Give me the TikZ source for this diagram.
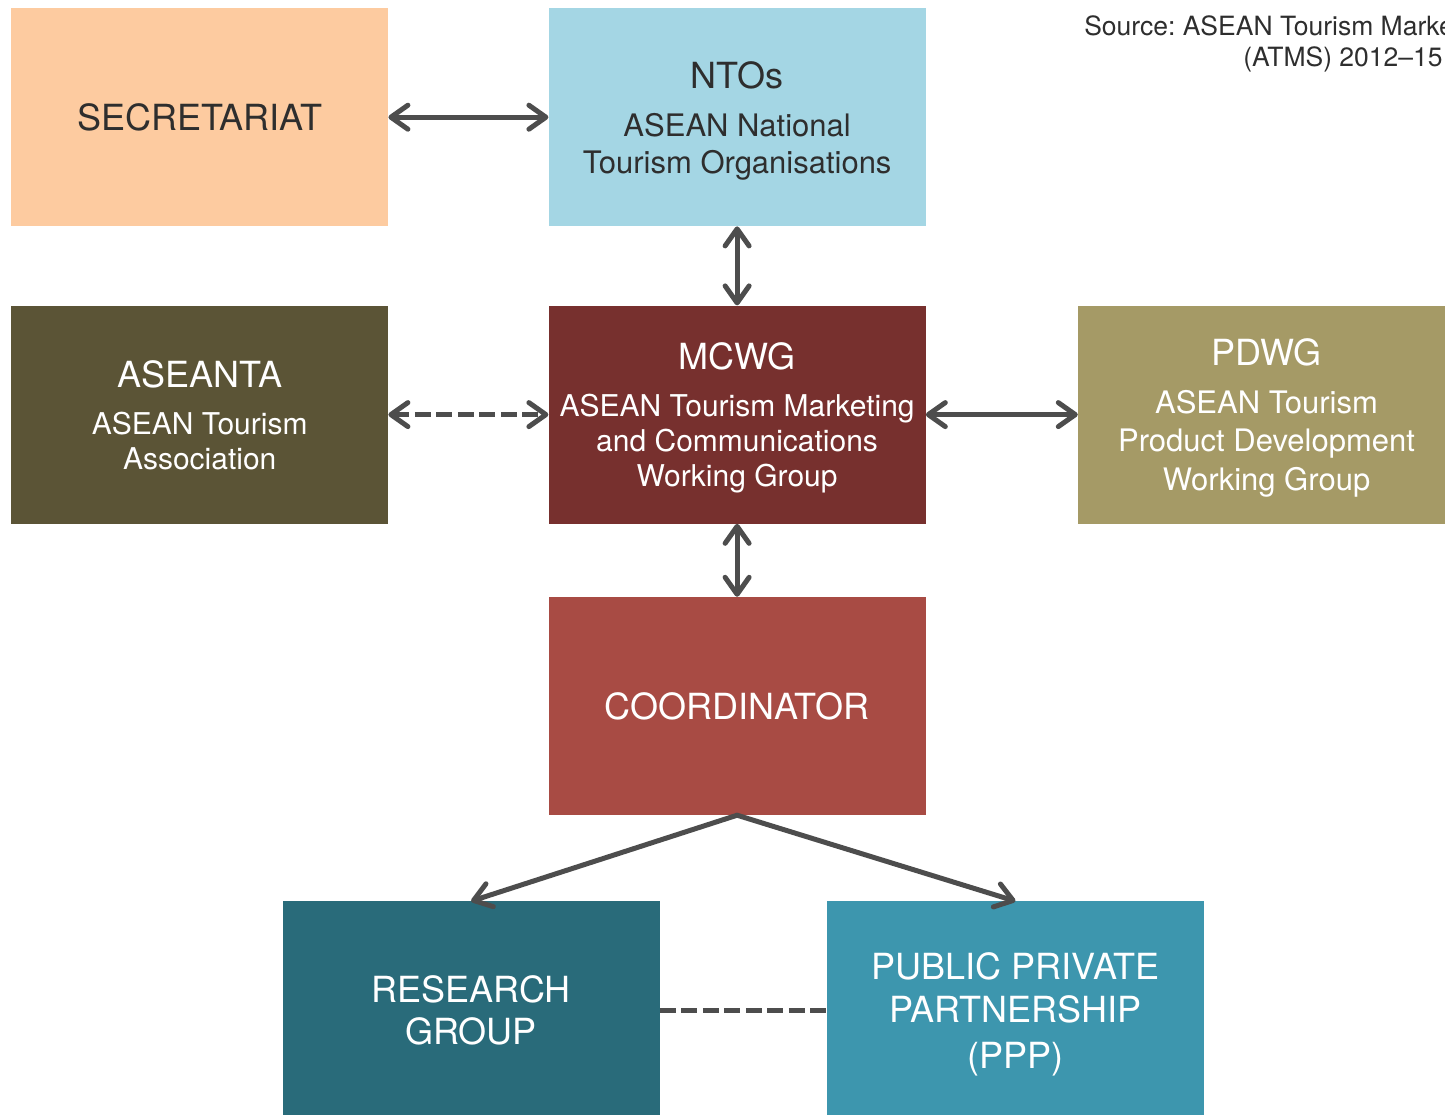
\documentclass[tikz,border=0pt]{standalone}
\usepackage{fontspec}
\setmainfont{TeX Gyre Heros}
\usetikzlibrary{positioning,arrows.meta}
\usepackage{xcolor}
\frenchspacing
\definecolor{secfill}{HTML}{FDCBA0}
\definecolor{ntofill}{HTML}{A4D6E4}
\definecolor{aseantafill}{HTML}{5B5436}
\definecolor{mcwgfill}{HTML}{77302E}
\definecolor{pdwgfill}{HTML}{A59A66}
\definecolor{coordfill}{HTML}{A84B44}
\definecolor{researchfill}{HTML}{296B7A}
\definecolor{pppfill}{HTML}{3D96AE}
\definecolor{arrowgray}{HTML}{4D4D4D}
\definecolor{darktext}{HTML}{2E2E2E}
\newcommand{\titlefont}{\fontsize{36}{43}\selectfont}
\newcommand{\subfont}{\fontsize{30}{35}\selectfont}

\begin{document}
\begin{tikzpicture}[x=1pt,y=-1pt,node distance=160pt]
		% 画布大小
		\useasboundingbox (0,0) rectangle (1445,1114);
		\clip (0,0) rectangle (1445,1114);
		% 定义方框与箭头
		\tikzstyle{box} = [rectangle, minimum width=377pt, minimum height=218pt, inner sep=0pt, text depth=0pt, align=center, text=white, font=\subfont]	% 定义方框
		\tikzstyle{arrow} = [line width=5pt, draw=arrowgray, {Straight Barb[length=17pt,width=24pt,line width=5pt,round]}-{Straight Barb[length=17pt,width=24pt,line width=5pt,round]}]	% 定义双向箭头
		\tikzstyle{onearrow} = [line width=5pt, draw=arrowgray, line cap=round, -{Straight Barb[length=17pt,width=24pt,line width=5pt,round]}]	% 定义单向箭头
		\tikzstyle{dashline} = [dash pattern=on 16pt off 5.5pt]	% 定义虚线
		\node (secretariat) [box, fill=secfill, text=darktext, font=\titlefont, anchor=north west] at (11,8) {SECRETARIAT};
		\node (ntos) [box, fill=ntofill, text=darktext, font=\fontsize{31}{37}\selectfont, right=160pt of secretariat] {{\titlefont NTOs}\\[11pt]ASEAN National\\Tourism Organisations};
		\node (mcwg) [box, fill=mcwgfill, below=79pt of ntos] {{\titlefont MCWG}\\[12pt]ASEAN Tourism Marketing\\and Communications\\Working Group};
		\node (aseanta) [box, fill=aseantafill, left=160pt of mcwg] {{\titlefont ASEANTA}\\[12pt]ASEAN Tourism\\Association};
		\node (pdwg) [box, fill=pdwgfill, font=\fontsize{31}{38.5}\selectfont, right=152pt of mcwg] {{\titlefont PDWG}\\[9pt]ASEAN Tourism\\Product Development\\Working Group};
		\node (coord) [box, fill=coordfill, font=\titlefont, below=73pt of mcwg] {COORDINATOR};
		\node (research) [box, fill=researchfill, font=\fontsize{36}{42}\selectfont, below=86pt of coord, xshift=-266pt] {RESEARCH\\GROUP};
		\node (ppp) [box, fill=pppfill, font=\fontsize{36}{43}\selectfont, right=167pt of research] {PUBLIC PRIVATE\\PARTNERSHIP\\[3pt](PPP)};
		\node (source) [align=center, inner sep=0pt, anchor=north, text=darktext, font=\fontsize{26.5}{31}\selectfont] at (1343,16) {Source: ASEAN Tourism Marketing Strategy\\(ATMS) 2012–15};

		% 连接方框
		\draw [arrow] (secretariat) -- (ntos);
		\draw [arrow] (ntos) -- (mcwg);
		\draw [arrow, dashline] (aseanta) -- (mcwg);
		\draw [arrow] (mcwg) -- (pdwg);
		\draw [arrow] (mcwg) -- (coord);
		\draw [onearrow] (coord.south) -- (research.north);
		\draw [onearrow] (coord.south) -- (ppp.north);
		\draw [line width=5pt, draw=arrowgray, dashline] (research) -- (ppp);
	\end{tikzpicture}
\end{document}
